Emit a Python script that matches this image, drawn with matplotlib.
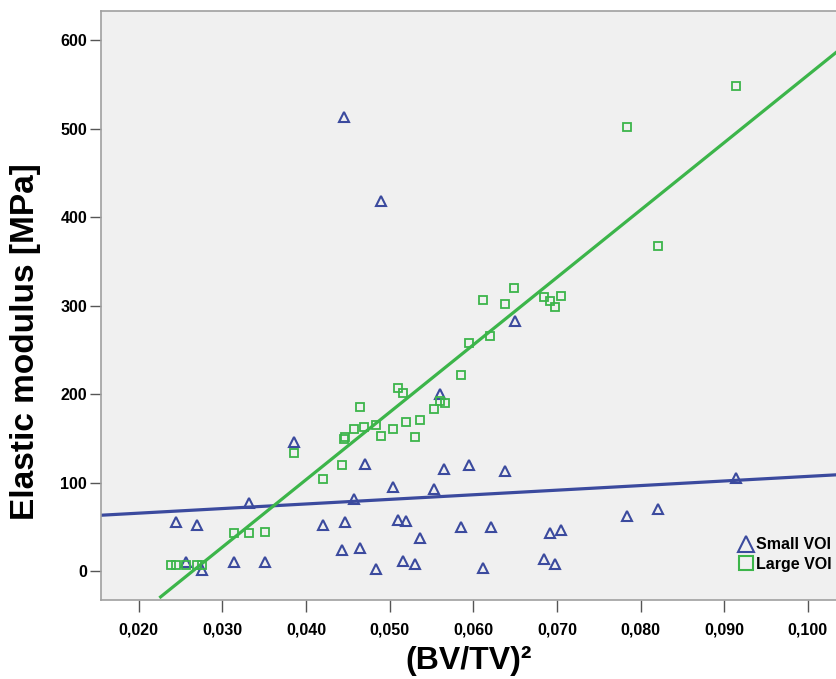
import matplotlib
matplotlib.use("Agg")
import matplotlib.pyplot as plt
import numpy as np
from matplotlib.lines import Line2D

# Small VOI measurements
small_x = [0.0244, 0.0270, 0.0256, 0.0275, 0.0314, 0.0351, 0.0332, 0.0386, 0.0420,
           0.0447, 0.0443, 0.0464, 0.0484, 0.0457, 0.0470, 0.0504, 0.0510, 0.0520,
           0.0516, 0.0530, 0.0536, 0.0553, 0.0565, 0.0560, 0.0595, 0.0638, 0.0585,
           0.0621, 0.0612, 0.0692, 0.0705, 0.0684, 0.0698, 0.0650, 0.0784, 0.0821,
           0.0914, 0.0445, 0.0490]
small_y = [56, 52, 11, 2, 11, 11, 77, 146, 53,
           56, 24, 27, 3, 82, 121, 95, 58, 57,
           12, 9, 38, 93, 116, 201, 120, 114, 50,
           50, 4, 44, 47, 14, 9, 283, 63, 71,
           106, 513, 418]

# Large VOI measurements
large_x = [0.0239, 0.0245, 0.0256, 0.0269, 0.0275, 0.0314, 0.0332, 0.0351, 0.0386,
           0.0420, 0.0443, 0.0445, 0.0446, 0.0464, 0.0457, 0.0469, 0.0484, 0.0490,
           0.0504, 0.0510, 0.0516, 0.0520, 0.0530, 0.0536, 0.0553, 0.0560, 0.0566,
           0.0585, 0.0595, 0.0620, 0.0612, 0.0638, 0.0649, 0.0684, 0.0692, 0.0698,
           0.0705, 0.0784, 0.0914, 0.0821]
large_y = [7, 7, 7, 7, 7, 44, 43, 45, 134,
           105, 120, 150, 152, 186, 161, 163, 166, 153,
           161, 207, 202, 169, 152, 171, 183, 192, 190,
           222, 258, 266, 307, 302, 320, 310, 305, 299,
           311, 502, 548, 368]

# Linear fit lines (intercept, slope)
small_fit = (55.5, 519.0)
large_fit = (-200.7, 7611.0)
large_fit_xstart = 0.0226

x_ticks = [0.020, 0.030, 0.040, 0.050, 0.060, 0.070, 0.080, 0.090, 0.100]
y_ticks = [0, 100, 200, 300, 400, 500, 600]

blue = "#3b4a9e"
green = "#3cb54a"

W, H = 837, 679
fig = plt.figure(figsize=(W / 100, H / 100), dpi=100)
fig.patch.set_facecolor("white")
ax_w = (W - 101) / W + 0.01
ax = fig.add_axes([101 / W, (H - 600) / H, ax_w, (600 - 11) / H])
ax.set_facecolor("#f0f0f0")

xmin, xmax = 0.01547, 0.1045
ax.set_xlim(xmin, xmax)
ax.set_ylim(-32.2, 633)

sans = ["Liberation Sans", "DejaVu Sans"]
tick_font = dict(family=sans, weight="bold", size=11.5)

# fit lines
xs = np.array([xmin, xmax])
ax.plot(xs, small_fit[0] + small_fit[1] * xs, color=blue, lw=2.3, zorder=2)
xg = np.array([large_fit_xstart, xmax])
ax.plot(xg, large_fit[0] + large_fit[1] * xg, color=green, lw=2.3, zorder=2)

ax.plot(small_x, small_y, linestyle="none", marker="^", markersize=6.8,
        markerfacecolor="none", markeredgecolor=blue, markeredgewidth=1.5, zorder=3)
ax.plot(large_x, large_y, linestyle="none", marker="s", markersize=6.2,
        markerfacecolor="none", markeredgecolor=green, markeredgewidth=1.3, zorder=3)

ax.set_xticks(x_ticks)
ax.set_xticklabels([f"{v:.3f}".replace(".", ",") for v in x_ticks], **tick_font)
ax.set_yticks(y_ticks)
ax.set_yticklabels([str(v) for v in y_ticks], **tick_font)
ax.tick_params(axis="x", direction="out", length=8.5, width=1, color="#555555", pad=8)
ax.tick_params(axis="y", direction="out", length=8, width=1, color="#555555", pad=2)

for side in ["left", "bottom", "top"]:
    ax.spines[side].set_color("#a0a0a0")
    ax.spines[side].set_linewidth(1.2)
ax.spines["right"].set_visible(False)

fig.text(26 / W, 1 - 342 / H, "Elastic modulus [MPa]", family=sans, weight="bold",
         size=24, rotation=90, ha="center", va="center")
fig.text(469 / W, 1 - 661 / H, "(BV/TV)²", family=sans, weight="bold",
         size=23, ha="center", va="center")

handles = [
    Line2D([], [], linestyle="none", marker="^", markersize=11,
           markerfacecolor="none", markeredgecolor=blue, markeredgewidth=1.5),
    Line2D([], [], linestyle="none", marker="s", markersize=10,
           markerfacecolor="none", markeredgecolor=green, markeredgewidth=1.5),
]
leg = ax.legend(handles, ["Small VOI", "Large VOI"], loc="lower left",
                bbox_to_anchor=((738 - 101) / (ax_w * W), (600 - 572) / 589),
                frameon=False, handletextpad=0.15, labelspacing=0.3,
                borderaxespad=0.0, borderpad=0.0, handlelength=1.0,
                prop=dict(family=sans, weight="bold", size=11.5))

fig.savefig("out.png", dpi=100, facecolor="white")
